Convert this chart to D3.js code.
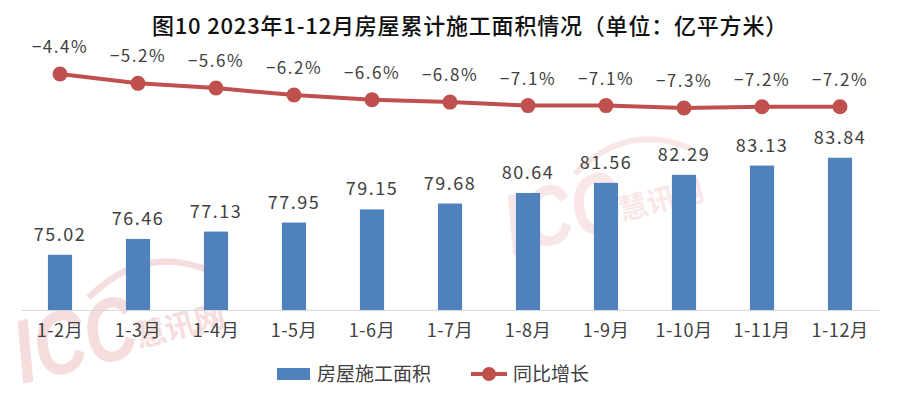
<!DOCTYPE html>
<html><head><meta charset="utf-8">
<script src="https://cdn.jsdelivr.net/npm/d3@7"></script>
<style>
html,body{margin:0;padding:0;background:#fff;}
svg text{font-family:"Noto Sans CJK SC","Liberation Sans",sans-serif;}
</style></head>
<body><svg id="c" width="900" height="401"></svg>
<script>
const categories = ["1-2月","1-3月","1-4月","1-5月","1-6月","1-7月","1-8月","1-9月","1-10月","1-11月","1-12月"];
const areaValues = [75.02,76.46,77.13,77.95,79.15,79.68,80.64,81.56,82.29,83.13,83.84];
const growthValues = [-4.4,-5.2,-5.6,-6.2,-6.6,-6.8,-7.1,-7.1,-7.3,-7.2,-7.2];
const titleText = "图10  2023年1-12月房屋累计施工面积情况（单位：亿平方米）";
const legendBar = "房屋施工面积";
const legendLine = "同比增长";

const svg = d3.select("#c");
const barColor = "#4F81BD", lineColor = "#C0504D", textColor = "#404040";

// watermarks
function watermark(x, y, s, op){
  const g = svg.append("g").attr("transform", `translate(${x},${y}) rotate(-14) scale(${s})`).attr("opacity", op);
  g.append("text").attr("x",0).attr("y",0).attr("font-size",100).attr("font-weight","bold")
    .attr("font-style","italic").attr("fill","#e8a0a0").attr("transform","scale(0.8,1)")
    .style("font-family","Liberation Sans").text("ICC");
  g.append("text").attr("x",135).attr("y",-8).attr("font-size",34).attr("font-weight","bold")
    .attr("fill","#e8a0a0").text("慧讯网");
  g.append("path").attr("d","M 95 -75 Q 170 -120 235 -70").attr("fill","none")
    .attr("stroke","#e8a0a0").attr("stroke-width",7);
}
watermark(22, 384, 0.9, 0.35);
watermark(512, 255, 0.85, 0.25);

const x = d3.scaleBand().domain(categories).range([21, 879]).paddingInner(0.69).paddingOuter(0.345);
const y = d3.scaleLinear().domain([70, 90]).range([310, 90]);
const y2 = d3.scaleLinear().domain([-10, 0]).range([139.6, 22.4]);

// title
svg.append("text").attr("x", 470).attr("y", 34).attr("text-anchor","middle")
  .attr("font-size", 22).attr("font-weight", 500).attr("letter-spacing", 0.8)
  .attr("fill","#111").text(titleText);

// bars
svg.selectAll("rect.bar").data(areaValues).enter().append("rect").attr("class","bar")
  .attr("x",(d,i)=>x(categories[i])).attr("width",x.bandwidth())
  .attr("y",d=>y(d)).attr("height",d=>y(70)-y(d)).attr("fill",barColor);

// axis
const axis = d3.axisBottom(x).tickSize(0).tickPadding(14);
const ag = svg.append("g").attr("transform","translate(0,310)").call(axis);
ag.select(".domain").attr("stroke","#d9d9d9").attr("stroke-width",1.2);
ag.selectAll("text").attr("font-size",18).attr("fill",textColor).attr("letter-spacing",0.6)
  .style("font-family","\"Noto Sans CJK SC\",sans-serif");

// bar labels
svg.selectAll("text.bl").data(areaValues).enter().append("text").attr("class","bl")
  .attr("x",(d,i)=>x(categories[i])+x.bandwidth()/2).attr("y",d=>y(d)-14)
  .attr("text-anchor","middle").attr("font-size",18).attr("letter-spacing",1.5)
  .attr("fill",textColor).text(d=>d.toFixed(2));

// line
const cx = (d,i)=>x(categories[i])+x.bandwidth()/2;
svg.append("path").datum(growthValues)
  .attr("d", d3.line().x(cx).y(d=>y2(d)))
  .attr("fill","none").attr("stroke",lineColor).attr("stroke-width",4).attr("stroke-linejoin","round");
svg.selectAll("circle.pt").data(growthValues).enter().append("circle").attr("class","pt")
  .attr("cx",cx).attr("cy",d=>y2(d)).attr("r",7.5).attr("fill",lineColor);
svg.selectAll("text.pl").data(growthValues).enter().append("text").attr("class","pl")
  .attr("x",cx).attr("y",d=>y2(d)-21).attr("text-anchor","middle")
  .attr("font-size",17).attr("letter-spacing",1.5)
  .attr("fill",textColor).text(d=>"−"+Math.abs(d).toFixed(1)+"%");

// legend
const lg = svg.append("g");
lg.append("rect").attr("x",277).attr("y",368).attr("width",33).attr("height",12).attr("fill",barColor);
lg.append("text").attr("x",317).attr("y",381).attr("font-size",19).attr("fill",textColor).text(legendBar);
lg.append("line").attr("x1",471).attr("x2",507).attr("y1",374).attr("y2",374).attr("stroke",lineColor).attr("stroke-width",4);
lg.append("circle").attr("cx",489).attr("cy",374).attr("r",7).attr("fill",lineColor);
lg.append("text").attr("x",513).attr("y",381).attr("font-size",19).attr("fill",textColor).text(legendLine);
</script></body></html>
